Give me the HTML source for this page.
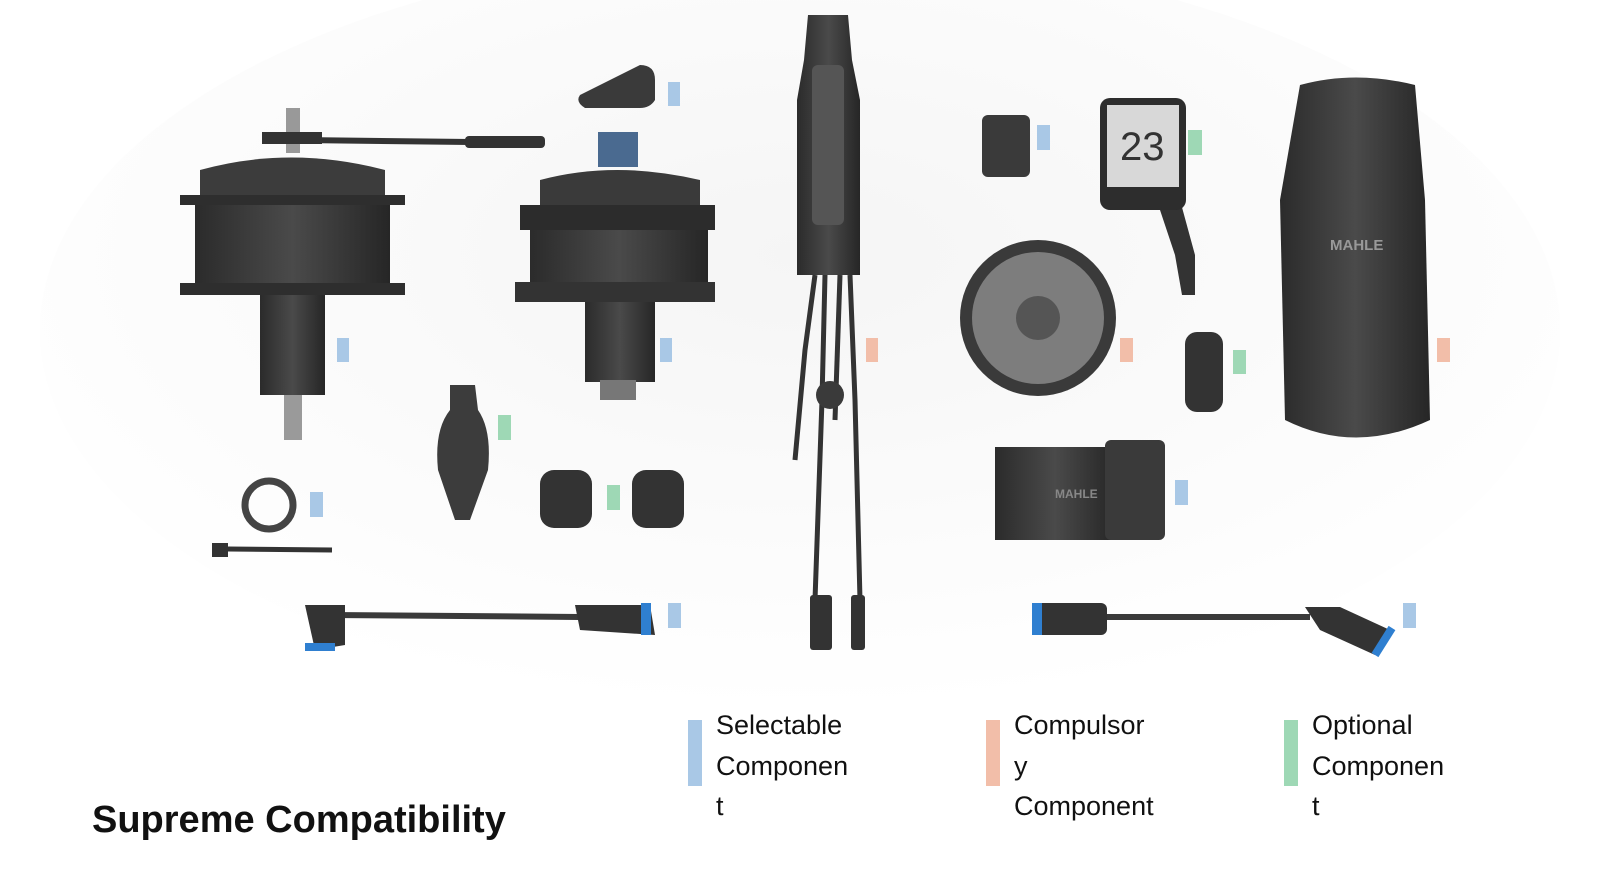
<!DOCTYPE html>
<html><head><meta charset="utf-8"><style>
html,body{margin:0;padding:0;background:#fff;}
svg{display:block}
text{font-family:"Liberation Sans",Arial,sans-serif}
</style></head><body>
<svg width="1600" height="872" viewBox="0 0 1600 872" xmlns="http://www.w3.org/2000/svg">
<defs>
<radialGradient id="bg" cx="50%" cy="40%" r="60%"><stop offset="0" stop-color="#f5f5f5"/><stop offset="1" stop-color="#fff"/></radialGradient>
<linearGradient id="dk" x1="0" x2="1"><stop offset="0" stop-color="#2b2b2b"/><stop offset=".5" stop-color="#4a4a4a"/><stop offset="1" stop-color="#262626"/></linearGradient>
</defs>
<rect width="1600" height="872" fill="#fff"/>
<ellipse cx="800" cy="330" rx="760" ry="380" fill="url(#bg)"/>

<!-- hub motor left -->
<rect x="286" y="108" width="14" height="45" fill="#999"/>
<path d="M300 140 L470 142" stroke="#333" stroke-width="6"/>
<rect x="465" y="136" width="80" height="12" rx="4" fill="#333"/>
<rect x="262" y="132" width="60" height="12" fill="#333"/>
<path d="M200 170 Q290 145 385 170 L385 195 L200 195Z" fill="#3c3c3c"/>
<rect x="180" y="195" width="225" height="10" fill="#2e2e2e"/>
<rect x="195" y="205" width="195" height="80" fill="url(#dk)"/>
<rect x="180" y="283" width="225" height="12" fill="#2e2e2e"/>
<rect x="260" y="295" width="65" height="100" fill="url(#dk)"/>
<rect x="284" y="395" width="18" height="45" fill="#9a9a9a"/>
<rect x="337" y="338" width="12" height="24" fill="#a9c8e6"/>

<!-- motor 2 -->
<rect x="598" y="132" width="40" height="35" fill="#4a6a90"/>
<path d="M540 180 Q615 160 700 180 L700 205 L540 205Z" fill="#3a3a3a"/>
<rect x="520" y="205" width="195" height="25" fill="#2c2c2c"/>
<rect x="530" y="230" width="178" height="55" fill="url(#dk)"/>
<rect x="515" y="282" width="200" height="20" fill="#333"/>
<rect x="585" y="302" width="70" height="80" fill="url(#dk)"/>
<rect x="600" y="380" width="36" height="20" fill="#777"/>
<rect x="660" y="338" width="12" height="24" fill="#a9c8e6"/>

<!-- bracket -->
<path d="M580 95 L640 65 Q655 65 655 80 L655 100 Q650 108 640 108 L585 108 Q575 102 580 95Z" fill="#3a3a3a"/>
<rect x="668" y="82" width="12" height="24" fill="#a9c8e6"/>

<!-- tall unit -->
<path d="M808 15 L848 15 L852 60 L860 100 L860 275 L797 275 L797 100 L804 60Z" fill="url(#dk)"/>
<rect x="812" y="65" width="32" height="160" rx="6" fill="#555"/>
<g stroke="#333" stroke-width="5" fill="none">
<path d="M815 275 L805 350 L795 460"/><path d="M825 275 L822 400 L815 600"/>
<path d="M840 275 L835 420"/><path d="M850 275 L855 400 L860 600"/>
</g>
<rect x="810" y="595" width="22" height="55" rx="3" fill="#333"/>
<rect x="851" y="595" width="14" height="55" rx="3" fill="#333"/>
<circle cx="830" cy="395" r="14" fill="#3a3a3a"/>
<rect x="866" y="338" width="12" height="24" fill="#f2bea9"/>

<!-- small box -->
<rect x="982" y="115" width="48" height="62" rx="6" fill="#3a3a3a"/>
<rect x="1037" y="125" width="13" height="25" fill="#a9c8e6"/>

<!-- display -->
<path d="M1165 195 L1180 200 L1195 255 L1195 295 L1182 295 L1175 255 L1160 210Z" fill="#333"/>
<rect x="1100" y="98" width="86" height="112" rx="10" fill="#2d2d2d"/>
<rect x="1107" y="105" width="72" height="82" fill="#d8d8d8"/>
<text x="1120" y="160" font-size="40" fill="#333">23</text>
<rect x="1188" y="130" width="14" height="25" fill="#9ed8b5"/>

<!-- big battery -->
<path d="M1300 85 Q1355 70 1415 85 L1425 200 L1430 420 Q1355 455 1285 420 L1280 200Z" fill="url(#dk)"/>
<text x="1330" y="250" font-size="15" font-weight="bold" fill="#999">MAHLE</text>
<rect x="1437" y="338" width="13" height="24" fill="#f2bea9"/>

<!-- disc -->
<circle cx="1038" cy="318" r="78" fill="#3a3a3a"/>
<circle cx="1038" cy="318" r="66" fill="#7d7d7d"/>
<circle cx="1038" cy="318" r="22" fill="#555"/>
<rect x="1120" y="338" width="13" height="24" fill="#f2bea9"/>

<!-- switch -->
<rect x="1185" y="332" width="38" height="80" rx="12" fill="#333"/>
<rect x="1233" y="350" width="13" height="24" fill="#9ed8b5"/>

<!-- BB cylinder -->
<rect x="995" y="447" width="120" height="93" fill="url(#dk)"/>
<rect x="1105" y="440" width="60" height="100" rx="6" fill="#3a3a3a"/>
<text x="1055" y="498" font-size="12" font-weight="bold" fill="#888">MAHLE</text>
<rect x="1175" y="480" width="13" height="25" fill="#a9c8e6"/>

<!-- remote -->
<path d="M450 385 L475 385 L478 410 Q492 430 488 470 L470 520 L455 520 L438 470 Q434 430 450 410Z" fill="#3c3c3c"/>
<rect x="498" y="415" width="13" height="25" fill="#9ed8b5"/>

<!-- sensors -->
<rect x="540" y="470" width="52" height="58" rx="14" fill="#333"/>
<rect x="632" y="470" width="52" height="58" rx="14" fill="#333"/>
<rect x="607" y="485" width="13" height="25" fill="#9ed8b5"/>

<!-- ring -->
<circle cx="269" cy="505" r="24" fill="none" stroke="#444" stroke-width="7"/>
<rect x="212" y="543" width="16" height="14" fill="#333"/>
<path d="M228 549 L332 550" stroke="#333" stroke-width="5"/>
<rect x="310" y="492" width="13" height="25" fill="#a9c8e6"/>

<!-- cable left -->
<path d="M330 615 L580 617" stroke="#3a3a3a" stroke-width="6"/>
<path d="M305 605 L345 605 L345 645 L315 650Z" fill="#333"/>
<rect x="305" y="643" width="30" height="8" fill="#2f7fd0"/>
<path d="M575 605 L650 605 L655 635 L580 630Z" fill="#333"/>
<rect x="641" y="603" width="10" height="32" fill="#2f7fd0"/>
<rect x="668" y="603" width="13" height="25" fill="#a9c8e6"/>

<!-- cable right -->
<path d="M1100 617 L1310 617" stroke="#3a3a3a" stroke-width="6"/>
<rect x="1032" y="603" width="75" height="32" rx="6" fill="#333"/>
<rect x="1032" y="603" width="10" height="32" fill="#2f7fd0"/>
<path d="M1305 607 L1340 607 L1390 630 L1375 655 L1320 630Z" fill="#333"/>
<path d="M1375 655 L1392 628" stroke="#2f7fd0" stroke-width="8"/>
<rect x="1403" y="603" width="13" height="25" fill="#a9c8e6"/>

<!-- legend -->
<rect x="688" y="720" width="14" height="66" fill="#a9c8e6"/>
<rect x="986" y="720" width="14" height="66" fill="#f2bea9"/>
<rect x="1284" y="720" width="14" height="66" fill="#9ed8b5"/>
<g font-size="27" fill="#111">
<text x="716" y="734">Selectable</text><text x="716" y="775">Componen</text><text x="716" y="815">t</text>
<text x="1014" y="734">Compulsor</text><text x="1014" y="775">y</text><text x="1014" y="815">Component</text>
<text x="1312" y="734">Optional</text><text x="1312" y="775">Componen</text><text x="1312" y="815">t</text>
</g>
<text x="92" y="832" font-size="38" font-weight="bold" fill="#111">Supreme Compatibility</text>
</svg>
</body></html>
